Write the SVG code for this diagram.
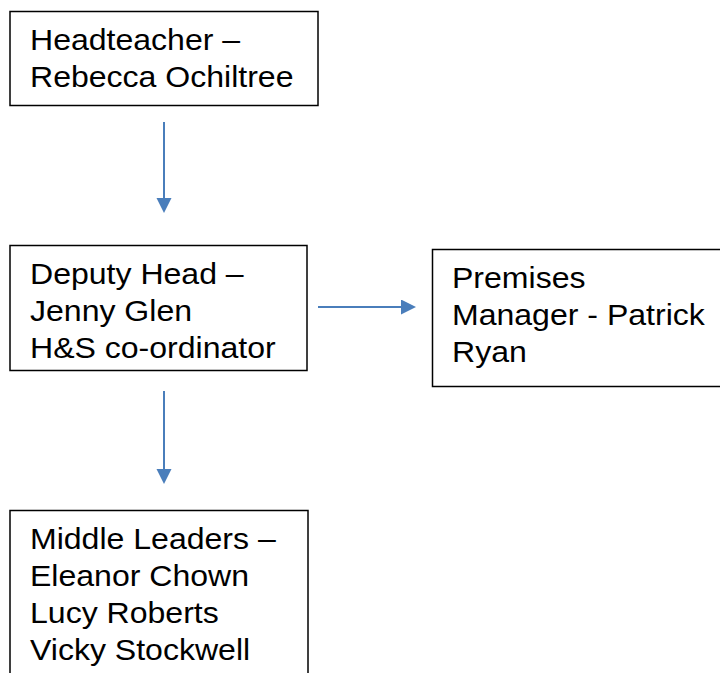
<svg xmlns="http://www.w3.org/2000/svg" width="720" height="673" viewBox="0 0 720 673">
  <style>
    .box { fill: #ffffff; stroke: #000000; stroke-width: 1.5; }
    .lbl { font-family: "Liberation Sans", Arial, sans-serif; font-size: 29px; fill: #000000; }
    .conn { stroke: #4a7ebb; stroke-width: 2; fill: none; }
  </style>
  <defs>
    <marker id="arr" markerUnits="userSpaceOnUse" markerWidth="16" markerHeight="16" refX="4" refY="7.5" orient="auto">
      <path d="M0,0 L15,7.5 L0,15 z" fill="#4a7ebb"/>
    </marker>
  </defs>
  <rect width="720" height="673" fill="#ffffff"/>

  <g id="headteacher">
    <rect class="box" x="10" y="11.5" width="308" height="94"/>
    <g transform="translate(30,0) scale(1.105,1)">
      <text class="lbl" x="0" y="50">Headteacher –</text>
      <text class="lbl" x="0" y="87">Rebecca Ochiltree</text>
    </g>
  </g>

  <g id="deputy">
    <rect class="box" x="10" y="245.5" width="297" height="125"/>
    <g transform="translate(30,0) scale(1.105,1)">
      <text class="lbl" x="0" y="284">Deputy Head –</text>
      <text class="lbl" x="0" y="321">Jenny Glen</text>
      <text class="lbl" x="0" y="358">H&amp;S co-ordinator</text>
    </g>
  </g>

  <g id="premises">
    <rect class="box" x="432.5" y="249.5" width="300" height="137"/>
    <g transform="translate(452,0) scale(1.105,1)">
      <text class="lbl" x="0" y="288">Premises</text>
      <text class="lbl" x="0" y="325">Manager - Patrick</text>
      <text class="lbl" x="0" y="362">Ryan</text>
    </g>
  </g>

  <g id="middle-leaders">
    <rect class="box" x="10" y="510.5" width="298" height="200"/>
    <g transform="translate(30,0) scale(1.105,1)">
      <text class="lbl" x="0" y="549">Middle Leaders –</text>
      <text class="lbl" x="0" y="586">Eleanor Chown</text>
      <text class="lbl" x="0" y="623">Lucy Roberts</text>
      <text class="lbl" x="0" y="660">Vicky Stockwell</text>
    </g>
  </g>

  <g id="connectors">
    <line class="conn" x1="164" y1="122" x2="164" y2="202" marker-end="url(#arr)"/>
    <line class="conn" x1="164" y1="391" x2="164" y2="473" marker-end="url(#arr)"/>
    <line class="conn" x1="318" y1="307" x2="405" y2="307" marker-end="url(#arr)"/>
  </g>
</svg>
